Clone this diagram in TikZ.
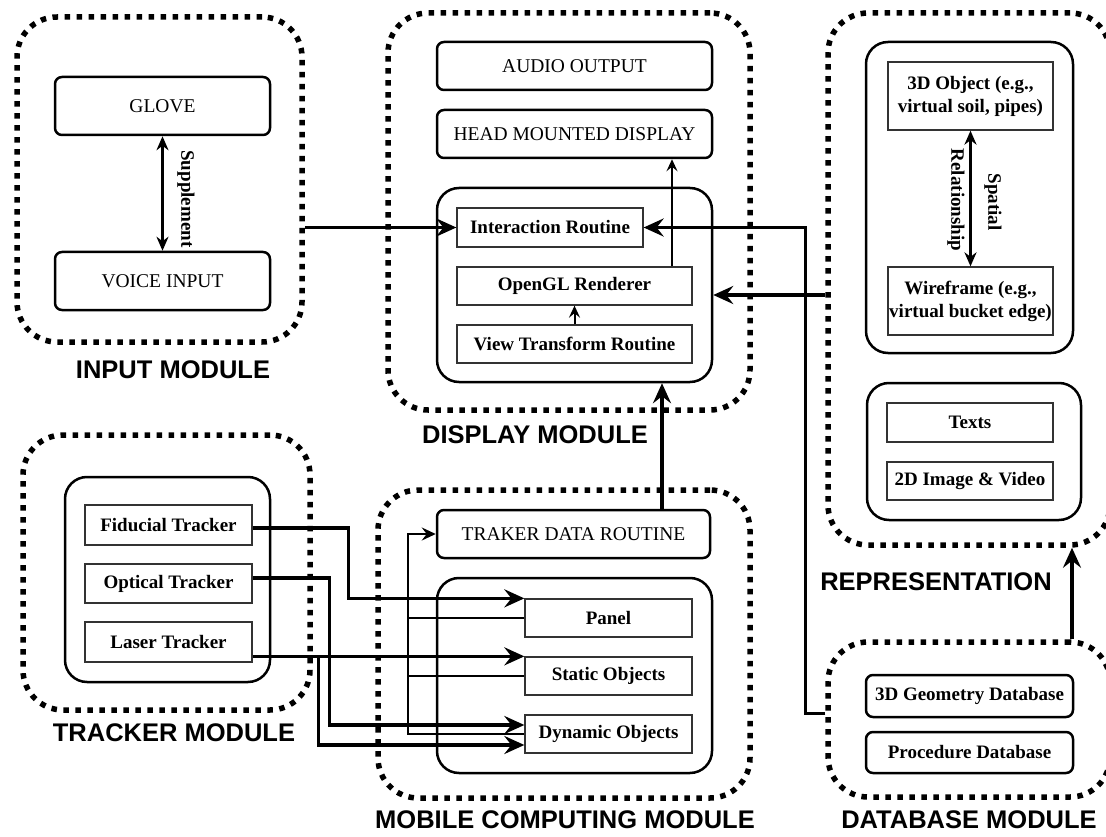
\documentclass[tikz,border=0pt]{standalone}
\usepackage{fontspec}
\setmainfont{Liberation Serif}
\newfontfamily\labfont{Liberation Sans}
\usetikzlibrary{arrows.meta,calc}
\begin{document}
\begin{tikzpicture}[x=1pt,y=-1pt,
  sz/.style n args={2}{minimum width=#1pt,minimum height=#2pt},
  module/.style={draw,line width=5.5pt,dash pattern=on 5.5pt off 6.5pt,rounded corners=40pt,inner sep=0pt},
  modlabel/.style={font=\labfont\fontsize{25.5}{28}\selectfont\bfseries,inner sep=0pt},
  ibox/.style={draw,line width=2.5pt,rounded corners=22pt,inner sep=0pt},
  rbox/.style={draw,line width=2.5pt,rounded corners=7pt,inner sep=0pt},
  rect/.style={draw=black!80,line width=1.3pt,inner sep=0pt},
  capt/.style={font=\fontsize{19.5}{23}\selectfont},
  boldt/.style={font=\fontsize{19}{23}\selectfont\bfseries},
  thickarrow/.style={line width=3.4pt,-{Stealth[length=20pt,width=18pt,inset=7pt]}},
  thinarrow/.style={line width=2pt,-{Stealth[length=12pt,width=11pt,inset=4.5pt]}},
  fbline/.style={line width=2.2pt},
  fbarrow/.style={line width=2.2pt,-{Stealth[length=14pt,width=13pt,inset=5pt]}},
  dblarrow/.style={line width=2.4pt,{Stealth[length=14pt,width=12pt,inset=4.5pt]}-{Stealth[length=14pt,width=12pt,inset=4.5pt]}}
]
\useasboundingbox[fill=white] (0,0) rectangle (1106,837);

% ---------- modules ----------
\node[module,sz={285}{325}] (inmod) at (159.5,179.5) {};
\node[modlabel] (inlab) at (173,370) {INPUT MODULE};
\node[module,sz={362}{397}] (dispmod) at (569,211.5) {};
\node[modlabel] (displab) at (535,435) {DISPLAY MODULE};
\node[module,sz={282}{532}] (repmod) at (969,279) {};
\node[modlabel] (replab) at (936,582) {REPRESENTATION};
\node[module,sz={282}{155}] (dbmod) at (969,719.5) {};
\node[modlabel] (dblab) at (969,820) {DATABASE MODULE};
\node[module,sz={287}{275}] (trmod) at (166.5,572.5) {};
\node[modlabel] (trlab) at (174,733) {TRACKER MODULE};
\node[module,sz={372}{308}] (mobmod) at (564,644) {};
\node[modlabel] (moblab) at (565,820) {MOBILE COMPUTING MODULE};

% ---------- input ----------
\node[rbox,sz={215}{58},capt] (glove) at (162.5,106) {GLOVE};
\node[rbox,sz={215}{58},capt] (voice) at (162.5,281) {VOICE INPUT};
\draw[dblarrow] (glove.south) -- (voice.north);
\node[boldt,rotate=-90,inner sep=0pt] (supp) at (186,199) {Supplement};

% ---------- display ----------
\node[rbox,sz={275}{48},capt] (audio) at (574.5,66) {AUDIO OUTPUT};
\node[rbox,sz={275}{48},capt] (hmd) at (574.5,134) {HEAD MOUNTED DISPLAY};
\node[ibox,sz={275}{194}] (dispin) at (574.5,285) {};
\node[rect,sz={186}{39},boldt] (inter) at (550,227.5) {Interaction Routine};
\node[rect,sz={235}{38},boldt] (ogl) at (574.5,286) {OpenGL Renderer};
\node[rect,sz={235}{38},boldt] (view) at (574.5,344) {View Transform Routine};

% ---------- representation ----------
\node[ibox,sz={207}{311}] (repin1) at (969.5,197.5) {};
\node[rect,sz={165}{68},boldt,align=center] (obj) at (970.5,96) {3D Object (e.g.,\\virtual soil, pipes)};
\node[rect,sz={165}{68},boldt,align=center] (wire) at (970.5,301) {Wireframe (e.g.,\\virtual bucket edge)};
\draw[dblarrow] (obj.south) -- (wire.north);
\node[boldt,rotate=-90,inner sep=0pt] (spat1) at (993,202) {Spatial};
\node[boldt,rotate=-90,inner sep=0pt] (spat2) at (956,200) {Relationship};
\node[ibox,sz={214}{137}] (repin2) at (974,451.5) {};
\node[rect,sz={166}{39},boldt] (texts) at (970,422.5) {Texts};
\node[rect,sz={166}{38},boldt] (img) at (970,481) {2D Image \& Video};

% ---------- database ----------
\node[rbox,sz={207}{42},boldt] (geo) at (969.5,696) {3D Geometry Database};
\node[rbox,sz={207}{41},boldt] (proc) at (969.5,752.5) {Procedure Database};

% ---------- tracker ----------
\node[ibox,sz={205}{205}] (trin) at (167.5,579.5) {};
\node[rect,sz={167}{40},boldt] (fid) at (168.5,525) {Fiducial Tracker};
\node[rect,sz={167}{39},boldt] (opt) at (168.5,583.5) {Optical Tracker};
\node[rect,sz={167}{40},boldt] (las) at (168.5,642) {Laser Tracker};

% ---------- mobile computing ----------
\node[rbox,sz={273}{48},capt] (tdr) at (573.5,534) {TRAKER DATA ROUTINE};
\node[ibox,sz={275}{195}] (mobin) at (574.5,675.5) {};
\node[rect,sz={167}{38},boldt] (panel) at (608.5,618) {Panel};
\node[rect,sz={167}{38},boldt] (stat) at (608.5,676) {Static Objects};
\node[rect,sz={167}{38},boldt] (dyn) at (608.5,734) {Dynamic Objects};

% ---------- connectors ----------
\draw[thickarrow] (inter.west -| inmod.east) -- (inter.west);
\draw[thickarrow] ([yshift=6pt]dbmod.west) -- ++(-20,0) |- (inter.east);
\draw[thickarrow] ([yshift=-10pt]dispin.east -| repmod.west) -- ([yshift=-10pt]dispin.east);
\draw[thinarrow] (view.north) -- (ogl.south);
\draw[thinarrow] ([xshift=97.5pt]ogl.north) -- ([xshift=97.5pt]ogl.north |- hmd.south);
\draw[thickarrow] ([xshift=88.5pt]tdr.north) -- ([xshift=88.5pt]tdr.north |- dispin.south);
\draw[thickarrow] ([xshift=103pt]dbmod.north) -- ([xshift=103pt]dbmod.north |- repmod.south);

\draw[thickarrow] ([yshift=-3pt]fid.east) -- ++(96,0) |- (panel.north west);
\draw[thickarrow] ([yshift=5.5pt]opt.east) -- ++(77,0) |- ([yshift=9pt]dyn.west);
\draw[thickarrow] (las.east |- stat.north west) -- (stat.north west);
\draw[thickarrow] (las.east |- stat.north west) -- ++(66,0) |- ([yshift=-11pt]dyn.west);

\coordinate (fb) at (408,0);
\draw[fbline] (panel.west) -- (panel.west -| fb);
\draw[fbline] (stat.west) -- (stat.west -| fb);
\draw[fbarrow] (dyn.west) -- (dyn.west -| fb) |- (tdr.west);
\end{tikzpicture}
\end{document}
